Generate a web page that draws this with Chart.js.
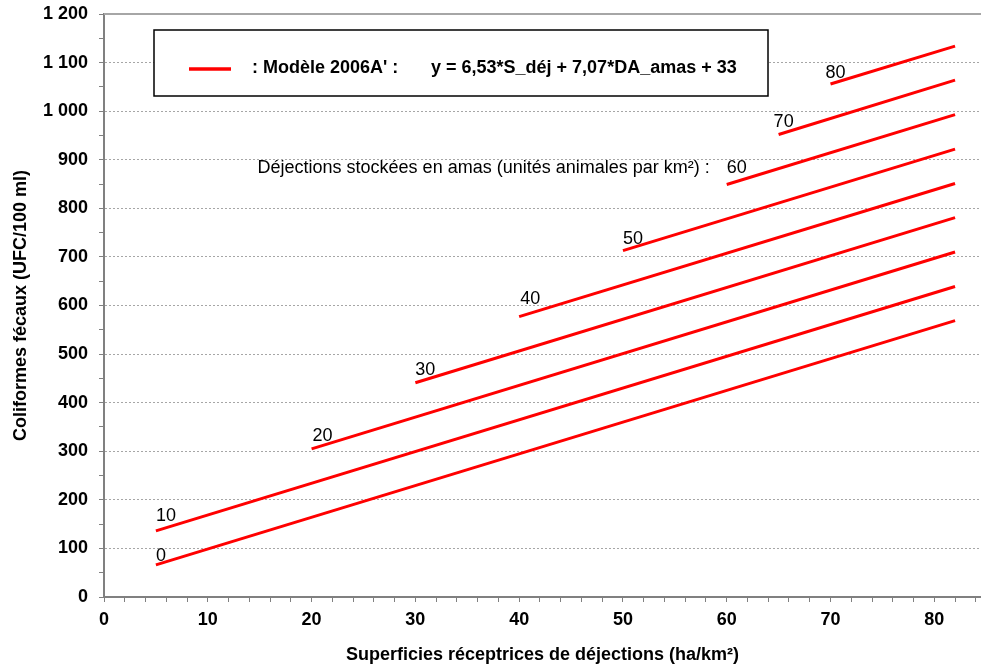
<!DOCTYPE html>
<html lang="fr">
<head>
<meta charset="utf-8">
<title>Modèle 2006A' – coliformes fécaux</title>
<script src="https://cdn.jsdelivr.net/npm/chart.js@4/dist/chart.umd.min.js"></script>
<style>
  html, body { margin: 0; padding: 0; background: #ffffff; }
  #wrap { width: 981px; height: 668px; }
</style>
</head>
<body>
<div id="wrap"><canvas id="chart" width="981" height="668"></canvas></div>
<script>
// Déjections stockées en amas (unités animales par km²) – one line per level
const amasLevels = [0, 10, 20, 30, 40, 50, 60, 70, 80];
// Superficies réceptrices (ha/km²) at the start and end of each line
const surfaceStart = [5, 5, 20, 30, 40, 50, 60, 65, 70];
const surfaceEnd   = [82, 82, 82, 82, 82, 82, 82, 82, 82];
// Coliformes fécaux (UFC/100 ml) at the start and end of each line
const coliStart = [66, 136, 305, 441, 577, 713, 849, 952, 1056];
const coliEnd   = [569, 639, 710, 781, 851, 922, 993, 1064, 1134];

const FONT = "'Liberation Sans', Arial, Helvetica, sans-serif";
const RED = '#ff0000';
const AXIS_GREY = '#808080';

// Hand-placed nudges (px) for each level label relative to the line start
const LABEL_NUDGE = {
  0: [0, -4], 10: [0, -10], 20: [1, -8], 30: [0, -8], 40: [1, -13],
  50: [0, -7], 60: [0, -12], 70: [-5, -7], 80: [-5, -6]
};

const datasets = amasLevels.map((lvl, i) => ({
  label: String(lvl),
  data: [
    { x: surfaceStart[i], y: coliStart[i] },
    { x: surfaceEnd[i], y: coliEnd[i] }
  ],
  borderColor: RED,
  backgroundColor: RED,
  borderWidth: 3,
  pointRadius: 0,
  fill: false,
  tension: 0
}));

function frenchThousands(v) {
  const s = String(Math.round(v));
  return s.replace(/\B(?=(\d{3})+(?!\d))/g, ' ');
}

// Solid frame line along the top of the plot area
const topFrame = {
  id: 'topFrame',
  beforeDatasetsDraw(chart) {
    const { ctx, chartArea } = chart;
    ctx.save();
    ctx.strokeStyle = '#a6a6a6';
    ctx.lineWidth = 2;
    ctx.beginPath();
    ctx.moveTo(chartArea.left, chartArea.top);
    ctx.lineTo(chartArea.right, chartArea.top);
    ctx.stroke();
    ctx.restore();
  }
};

// Level labels written just above the start of each line
const levelLabels = {
  id: 'levelLabels',
  afterDatasetsDraw(chart) {
    const { ctx } = chart;
    ctx.save();
    ctx.fillStyle = '#000000';
    ctx.font = '18px ' + FONT;
    ctx.textBaseline = 'alphabetic';
    chart.data.datasets.forEach((ds, i) => {
      const pt = chart.getDatasetMeta(i).data[0];
      if (!pt) return;
      const nudge = LABEL_NUDGE[amasLevels[i]] || [0, -7];
      const x = pt.x + nudge[0];
      const y = pt.y + nudge[1];
      ctx.textAlign = 'left';
      ctx.fillText(ds.label, x, y);
      if (amasLevels[i] === 60) {
        ctx.textAlign = 'right';
        ctx.fillText('Déjections stockées en amas (unités animales par km²) :', x - 17, y);
      }
    });
    ctx.restore();
  }
};

// Boxed legend with the model equation
const modelLegend = {
  id: 'modelLegend',
  afterDraw(chart) {
    const { ctx } = chart;
    const bx = 154, by = 30, bw = 614, bh = 66;
    ctx.save();
    ctx.fillStyle = '#ffffff';
    ctx.fillRect(bx, by, bw, bh);
    ctx.strokeStyle = '#000000';
    ctx.lineWidth = 1.5;
    ctx.strokeRect(bx, by, bw, bh);
    ctx.strokeStyle = RED;
    ctx.lineWidth = 3.5;
    ctx.beginPath();
    ctx.moveTo(189, 69);
    ctx.lineTo(231, 69);
    ctx.stroke();
    ctx.fillStyle = '#000000';
    ctx.font = 'bold 18px ' + FONT;
    ctx.textAlign = 'left';
    ctx.textBaseline = 'alphabetic';
    ctx.fillText(": Modèle 2006A' :", 252, 73);
    ctx.fillText('y = 6,53*S_déj + 7,07*DA_amas + 33', 431, 73);
    ctx.restore();
  }
};

new Chart(document.getElementById('chart'), {
  type: 'line',
  data: { datasets },
  plugins: [topFrame, levelLabels, modelLegend],
  options: {
    responsive: false,
    animation: false,
    devicePixelRatio: 1,
    layout: { padding: { top: 14, right: 0, bottom: 0, left: 0 } },
    plugins: {
      legend: { display: false },
      tooltip: { enabled: false }
    },
    scales: {
      x: {
        type: 'linear',
        min: 0,
        max: 84.5,
        afterFit(scale) {
          scale.height = 71;
          scale.paddingLeft = 0;
          scale.paddingRight = 0;
        },
        ticks: {
          stepSize: 2,
          includeBounds: false,
          autoSkip: false,
          maxRotation: 0,
          padding: 7,
          color: '#000000',
          font: { family: FONT, size: 18, weight: 'bold' },
          callback: v => (v % 10 === 0 ? String(v) : '')
        },
        grid: {
          drawOnChartArea: false,
          drawTicks: true,
          tickLength: 5,
          tickColor: AXIS_GREY,
          tickWidth: 1
        },
        border: { display: true, color: AXIS_GREY, width: 2 },
        title: {
          display: true,
          text: 'Superficies réceptrices de déjections (ha/km²)',
          color: '#000000',
          font: { family: FONT, size: 18, weight: 'bold' },
          padding: 2
        }
      },
      y: {
        type: 'linear',
        min: 0,
        max: 1200,
        afterFit(scale) {
          scale.width = 104;
          scale.paddingTop = 0;
          scale.paddingBottom = 0;
        },
        ticks: {
          stepSize: 50,
          autoSkip: false,
          padding: 11,
          color: '#000000',
          font: { family: FONT, size: 18, weight: 'bold' },
          callback: v => (v % 100 === 0 ? frenchThousands(v) : '')
        },
        grid: {
          drawTicks: true,
          tickLength: 5,
          lineWidth: 1,
          color: c => (c.tick && c.tick.value % 100 === 0 && c.tick.value > 0 && c.tick.value < 1200) ? '#a6a6a6' : 'rgba(0,0,0,0)',
          tickColor: AXIS_GREY,
          tickWidth: 1
        },
        border: { display: true, color: AXIS_GREY, width: 2, dash: [2, 2] },
        title: {
          display: true,
          text: 'Coliformes fécaux (UFC/100 ml)',
          color: '#000000',
          font: { family: FONT, size: 18, weight: 'bold' },
          padding: { top: 10, bottom: 0 }
        }
      }
    }
  }
});
</script>
</body>
</html>
